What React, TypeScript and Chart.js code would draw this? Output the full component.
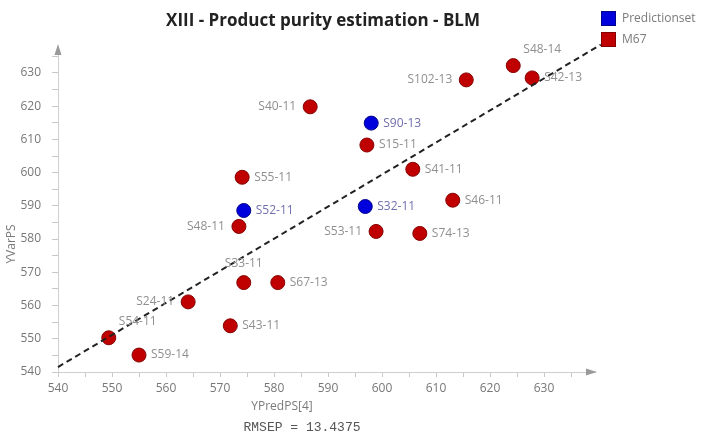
import React, { useEffect, useRef } from 'react';
import { Chart, registerables } from 'chart.js';

Chart.register(...registerables);

const chartTitle = 'XIII - Product purity estimation - BLM';
const xAxisTitle = 'YPredPS[4]';
const yAxisTitle = 'YVarPS';
const footnote = 'RMSEP = 13.4375';
const seriesNames = ['Predictionset', 'M67'];

const predLabels = ['S90-13', 'S52-11', 'S32-11'];
const predX = [598.0, 574.4, 596.9];
const predY = [614.9, 588.6, 589.8];
const predPlace = ['right', 'right', 'right'];

const m67Labels = ['S48-14', 'S42-13', 'S102-13', 'S40-11', 'S15-11', 'S41-11', 'S55-11', 'S46-11', 'S48-11', 'S53-11', 'S74-13', 'S33-11', 'S67-13', 'S24-11', 'S43-11', 'S54-11', 'S59-14'];
const m67X = [624.3, 627.8, 615.6, 586.7, 597.2, 605.7, 574.1, 613.1, 573.5, 598.9, 607.0, 574.4, 580.7, 564.1, 571.9, 549.4, 555.0];
const m67Y = [632.2, 628.5, 627.9, 619.8, 608.3, 601.0, 598.6, 591.7, 583.8, 582.3, 581.7, 566.9, 566.9, 561.1, 553.9, 550.3, 545.1];
const m67Place = ['topright', 'right', 'left', 'left', 'right', 'right', 'right', 'right', 'left', 'left', 'right', 'top', 'right', 'left', 'right', 'topright', 'right'];

const fitLineX = [540, 640.5];
const fitLineY = [541.5, 638.5];

const xMin = 540;
const xMax = 639.44;
const yMin = 540;
const yMax = 637.5;
const labelMax = 630;
const majorStep = 10;
const minorStep = 5;

const BLUE = '#0000dd';
const BLUE_EDGE = '#00008a';
const RED = '#c00000';
const RED_EDGE = '#850000';

const toPoints = (xs: number[], ys: number[]) => xs.map((x, i) => ({ x, y: ys[i] }));

const overlayPlugin = {
  id: 'overlay',
  afterDraw(chart: any) {
    const ctx = chart.ctx as CanvasRenderingContext2D;
    const { left, right, top, bottom } = chart.chartArea;
    ctx.save();

    // axis arrows
    ctx.fillStyle = '#9a9a9a';
    ctx.beginPath();
    ctx.moveTo(left, top - 4);
    ctx.lineTo(left - 3.5, top + 7);
    ctx.lineTo(left + 3.5, top + 7);
    ctx.closePath();
    ctx.fill();
    ctx.beginPath();
    ctx.moveTo(right + 2, bottom);
    ctx.lineTo(right - 9, bottom - 3.5);
    ctx.lineTo(right - 9, bottom + 3.5);
    ctx.closePath();
    ctx.fill();

    // point labels
    ctx.font = '12px "Open Sans"';
    ctx.textBaseline = 'middle';
    const sets = [
      { idx: 0, labels: predLabels, place: predPlace, color: '#6f6fae' },
      { idx: 1, labels: m67Labels, place: m67Place, color: '#8f8f8f' },
    ];
    sets.forEach((s) => {
      const meta = chart.getDatasetMeta(s.idx);
      ctx.fillStyle = s.color;
      meta.data.forEach((el: any, j: number) => {
        const p = s.place[j];
        const t = s.labels[j];
        if (p === 'right') {
          ctx.textAlign = 'left';
          ctx.fillText(t, el.x + 12, el.y);
        } else if (p === 'left') {
          ctx.textAlign = 'right';
          ctx.fillText(t, el.x - 14, el.y);
        } else if (p === 'top') {
          ctx.textAlign = 'center';
          ctx.fillText(t, el.x, el.y - 19);
        } else {
          ctx.textAlign = 'center';
          ctx.fillText(t, el.x + 29, el.y - 16);
        }
      });
    });

    // title
    ctx.fillStyle = '#222';
    ctx.font = 'bold 17px "Open Sans"';
    ctx.textAlign = 'center';
    ctx.fillText(chartTitle, 323, 21);

    // legend
    const legendColors = [
      [BLUE, BLUE_EDGE],
      [RED, RED_EDGE],
    ];
    seriesNames.forEach((name, i) => {
      const y = 11 + i * 21;
      ctx.fillStyle = legendColors[i][0];
      ctx.fillRect(601, y, 15, 15);
      ctx.strokeStyle = legendColors[i][1];
      ctx.lineWidth = 1;
      ctx.strokeRect(601.5, y + 0.5, 14, 14);
      ctx.fillStyle = '#7a7a7a';
      ctx.font = '12px "Open Sans"';
      ctx.textAlign = 'left';
      ctx.fillText(name, 622, y + 7.5);
    });

    // axis titles
    ctx.fillStyle = '#7a7a7a';
    ctx.font = '12px "Open Sans"';
    ctx.textAlign = 'center';
    ctx.fillText(xAxisTitle, 282, 407);
    ctx.save();
    ctx.translate(12, 244);
    ctx.rotate(-Math.PI / 2);
    ctx.fillText(yAxisTitle, 0, 0);
    ctx.restore();

    // footnote
    ctx.fillStyle = '#555';
    ctx.font = '13px "Liberation Mono"';
    ctx.fillText(footnote, 302, 428);

    ctx.restore();
  },
};

const tickLabel = (v: any) => {
  const n = Number(v);
  return Math.abs(n % majorStep) < 1e-6 && n <= labelMax ? String(n) : '';
};

export default function App() {
  const ref = useRef<HTMLCanvasElement | null>(null);

  useEffect(() => {
    document.body.style.margin = '0';
    const canvas = ref.current;
    if (!canvas) return;
    const chart = new Chart(canvas, {
      type: 'scatter',
      data: {
        datasets: [
          {
            label: seriesNames[0],
            data: toPoints(predX, predY),
            backgroundColor: BLUE,
            borderColor: BLUE_EDGE,
            borderWidth: 1,
            pointRadius: 7,
            order: 1,
          },
          {
            label: seriesNames[1],
            data: toPoints(m67X, m67Y),
            backgroundColor: RED,
            borderColor: RED_EDGE,
            borderWidth: 1,
            pointRadius: 7,
            order: 1,
          },
          {
            label: 'fit',
            data: toPoints(fitLineX, fitLineY),
            showLine: true,
            borderColor: '#222',
            borderWidth: 2,
            borderDash: [6, 4],
            pointRadius: 0,
            fill: false,
            clip: false as any,
            order: 0,
          },
        ],
      },
      options: {
        responsive: false,
        animation: false,
        events: [],
        layout: { padding: { top: 48, right: 108, bottom: 0, left: 0 } },
        plugins: {
          legend: { display: false },
          title: { display: false },
          tooltip: { enabled: false },
        },
        scales: {
          x: {
            type: 'linear',
            min: xMin,
            max: xMax,
            afterFit: (s: any) => {
              s.height = 61;
            },
            border: { color: '#cfcfcf', width: 1 },
            grid: {
              drawOnChartArea: false,
              drawTicks: true,
              tickLength: 5,
              color: '#c8c8c8',
            },
            ticks: {
              stepSize: minorStep,
              autoSkip: false,
              includeBounds: false,
              maxRotation: 0,
              padding: 4,
              color: '#777',
              font: { family: 'Open Sans', size: 12 },
              callback: tickLabel,
            },
          },
          y: {
            type: 'linear',
            min: yMin,
            max: yMax,
            afterFit: (s: any) => {
              s.width = 58;
            },
            border: { color: '#cfcfcf', width: 1 },
            grid: {
              drawOnChartArea: false,
              drawTicks: true,
              tickLength: 6,
              color: '#c8c8c8',
            },
            ticks: {
              stepSize: minorStep,
              autoSkip: false,
              includeBounds: false,
              padding: 11,
              color: '#777',
              font: { family: 'Open Sans', size: 12 },
              callback: tickLabel,
            },
          },
        },
      },
      plugins: [overlayPlugin],
    } as any);
    return () => chart.destroy();
  }, []);

  return (
    <div style={{ position: 'absolute', left: 0, top: 0, width: 703, height: 433 }}>
      <canvas ref={ref} width={703} height={433} />
    </div>
  );
}
